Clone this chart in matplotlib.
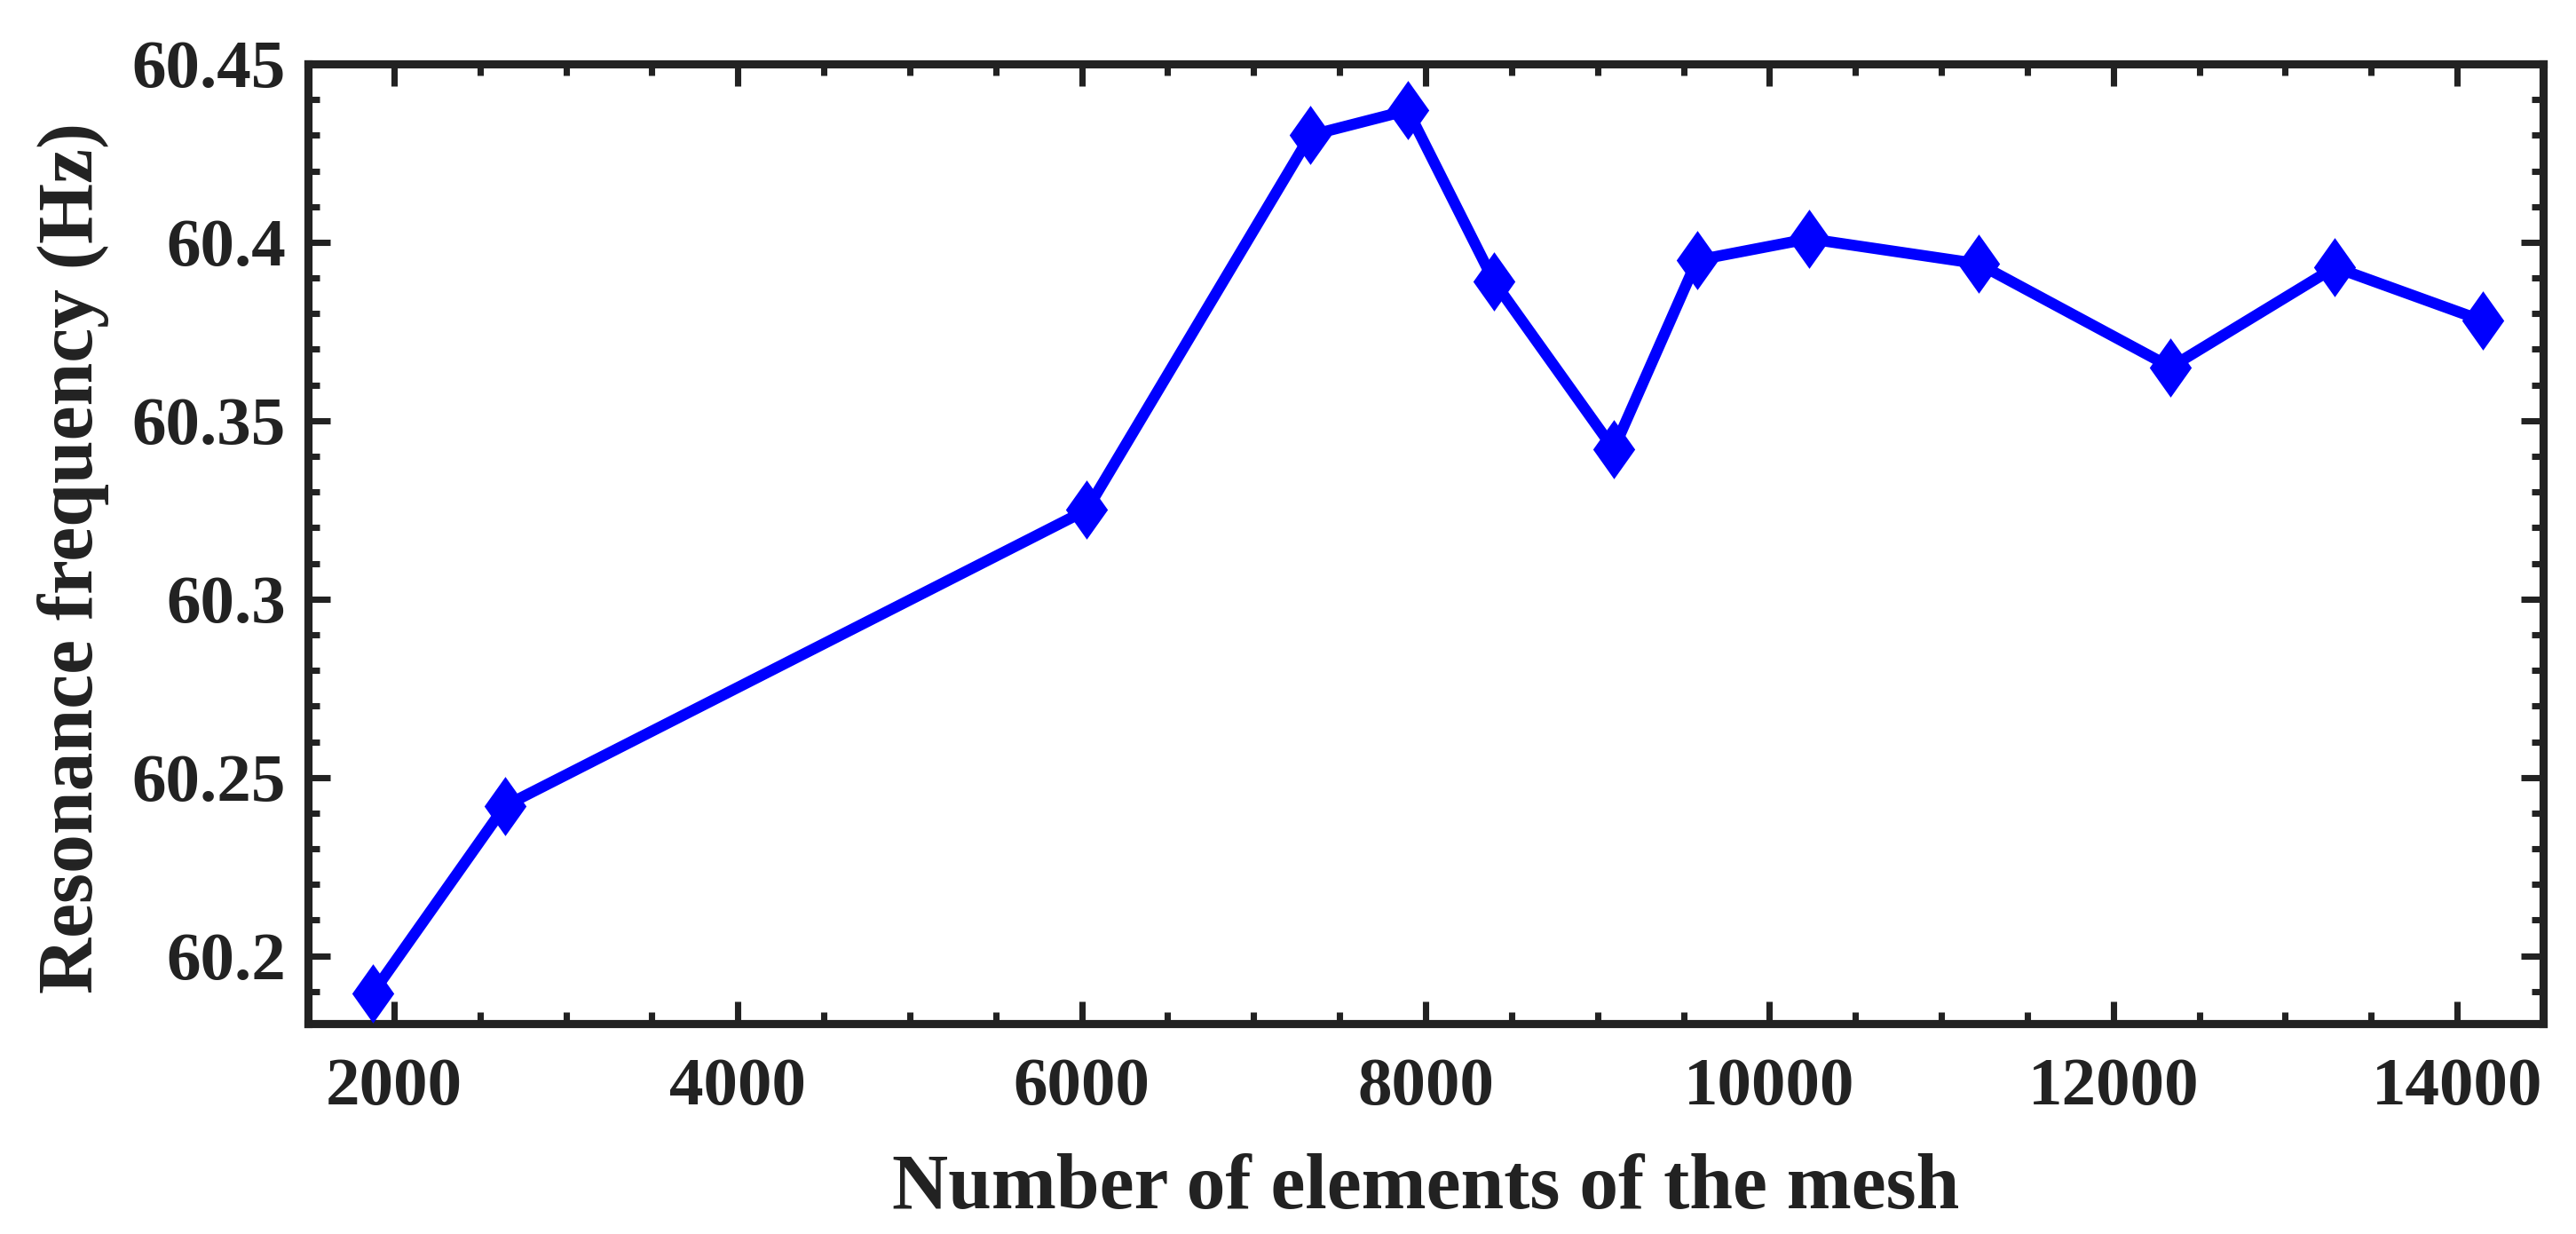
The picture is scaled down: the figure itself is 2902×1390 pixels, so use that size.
import matplotlib
matplotlib.use("Agg")
import matplotlib.pyplot as plt
from matplotlib.ticker import MultipleLocator, FuncFormatter
from matplotlib.path import Path

# Data
elements = [1876, 2645, 6030, 7330, 7897, 8398, 9094, 9579, 10229, 11215, 12334, 13289, 14150]
frequency = [60.1895, 60.242, 60.325, 60.430, 60.437, 60.389, 60.342, 60.395, 60.401, 60.394, 60.365, 60.393, 60.378]

x_ticks = [2000, 4000, 6000, 8000, 10000, 12000, 14000]
y_ticks = [60.2, 60.25, 60.3, 60.35, 60.4, 60.45]

plt.rcParams['font.family'] = ['Liberation Serif', 'DejaVu Serif']
plt.rcParams['font.weight'] = 'bold'

DPI = 300
fig = plt.figure(figsize=(2902 / DPI, 1390 / DPI), dpi=DPI)
ax = fig.add_axes([347 / 2902, 1 - 1153 / 1390, (2865 - 347) / 2902, (1153 - 72) / 1390])

diamond = Path([(0, 1), (0.71, 0), (0, -1), (-0.71, 0), (0, 1)],
               [Path.MOVETO, Path.LINETO, Path.LINETO, Path.LINETO, Path.CLOSEPOLY])

ax.plot(elements, frequency, color='#0000FF', linewidth=3.0, marker=diamond,
        markersize=16, markeredgewidth=0, markerfacecolor='#0000FF', zorder=3)

ax.set_xlim(1500, 14500)
ax.set_ylim(60.181, 60.45)
ax.set_xticks(x_ticks)
ax.set_yticks(y_ticks)
ax.xaxis.set_minor_locator(MultipleLocator(500))
ax.yaxis.set_minor_locator(MultipleLocator(0.01))
ax.yaxis.set_major_formatter(FuncFormatter(lambda v, p: f"{v:g}"))
ax.xaxis.set_major_formatter(FuncFormatter(lambda v, p: f"{int(v)}"))

spine_color = '#222222'
for s in ax.spines.values():
    s.set_linewidth(2.2)
    s.set_color(spine_color)

ax.tick_params(which='both', direction='in', top=True, right=True, color=spine_color)
ax.tick_params(which='major', length=6, width=1.7, labelsize=18.5, labelcolor='#222222')
ax.tick_params(which='minor', length=3.2, width=1.7)
ax.tick_params(axis='x', which='major', pad=9)
ax.tick_params(axis='y', which='major', pad=6)

for lab in ax.get_xticklabels() + ax.get_yticklabels():
    lab.set_fontweight('bold')

ax.set_xlabel('Number of elements of the mesh', fontsize=21, fontweight='bold', color='#222222')
ax.set_ylabel('Resonance frequency (Hz)', fontsize=21, fontweight='bold', color='#222222')
ax.xaxis.set_label_coords(0.5, -0.135)
ax.yaxis.set_label_coords(-0.089, 0.485)

fig.savefig('out.png', dpi=DPI, facecolor='white')
